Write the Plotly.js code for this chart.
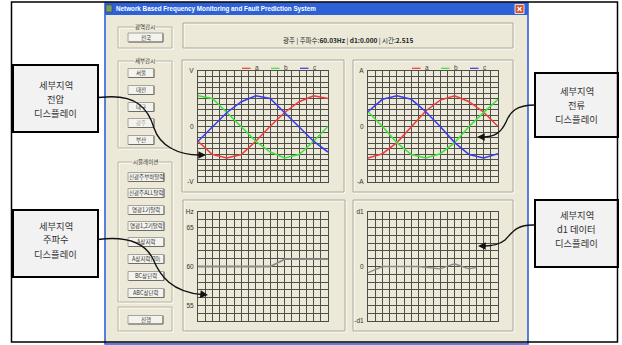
<!DOCTYPE html>
<html><head><meta charset="utf-8">
<script src="https://cdn.plot.ly/plotly-3.0.1.min.js"></script>
<style>html,body{margin:0;padding:0;background:#fff}#chart{width:622px;height:345px}</style>
</head><body><div id="chart"></div>
<script>
// ---------- data ----------
const sampleCols = [0,2,4,6,8,10,12,14,16,18];
const gridCols = [0,1,2,3,4,5,6,7,8,9,10,11,12,13,14,15,16,17,18];
const seriesNames = ['a','b','c'];
const seriesColors = ['#EE3B3B','#3EE03E','#3A3AEE'];
const voltA = [-2.65,-5.06,-5.66,-5.06,-2.65,0.05,2.53,4.46,5.54,5.06];
const voltB = [5.54,5.06,2.53,0,-2.65,-4.6,-5.66,-5.06,-2.65,0];
const voltC = [-2.65,0,2.53,4.46,5.54,5.06,2.53,0,-2.65,-4.6];
const currA = [-5.66,-4.9,-2.9,0,2.8,4.76,5.54,4.46,2.6,0];
const currB = [2.65,0,-2.9,-5.06,-5.66,-4.9,-2.9,0,2.5,4.9];
const currC = [2.65,4.9,5.54,4.9,2.65,0,-2.9,-5.06,-5.66,-4.9];
const freqCols = [0,1,2,3,4,5,6,7,8,9,10,11,12,13,14,15,16,17,18];
const freqHz = [60,60,60,60,60,60,60,60,60,60,60,60.45,60.95,60.95,60.95,60.95,60.95,60.95,60.95];
const d1Cols = [0,1,2,3,4,5,6,7,8,9,10,11,12,13,14,15];
const d1Vals = [-0.8,-0.4,0,0,0,0,0,0,-0.1,-0.2,-0.3,0.05,0.35,0,-0.3,-0.1];
const voltTickVals = [-10,-9,-8,-7,-6,-5,-4,-3,-2,-1,0,1,2,3,4,5,6,7,8,9,10];
const voltTickText = ['-V','','','','','','','','','','0','','','','','','','','','','V'];
const currTickText = ['-A','','','','','','','','','','0','','','','','','','','','','A'];
const freqTickVals = [53,54,55,56,57,58,59,60,61,62,63,64,65,66,67];
const freqTickText = ['','','55','','','','','60','','','','','65','','Hz'];
const d1TickVals = [-7,-6,-5,-4,-3,-2,-1,0,1,2,3,4,5,6,7];
const d1TickText = ['-d1','','','','','','','0','','','','','','','d1'];
const windowTitle = 'Network Based Frequency Monitoring and Fault Prediction System';
const statusText = '광주 | 주파수:<b>60.03Hz</b> | <b>d1:0.000</b> | 시간:<b>2.515</b>';
const wideButtons = ['전국'];
const regionButtons = ['서울','대전','대구','광주','부산'];
const simButtons = ['신광주부하탈락','신광주ALL탈락','영광1기탈락','영광1,2기탈락','A상지락','A상지락(20)','BC상단락','ABC상단락'];
const calloutLines = [['세부지역','전압','디스플레이'],['세부지역','전류','디스플레이'],['세부지역','주파수','디스플레이'],['세부지역','d1 데이터','디스플레이']];

// ---------- helpers ----------
const W = 622, H = 345;
const X = x => x / W;
const Y = y => 1 - y / H;
const BG = '#ECE9D8';
const shapes = [], annotations = [];
function rect(x0,y0,x1,y1,line,fill,layer){
  shapes.push({type:'rect',xref:'paper',yref:'paper',x0:X(x0),x1:X(x1),y0:Y(y1),y1:Y(y0),
    line:line||{width:0},fillcolor:fill||'rgba(0,0,0,0)',layer:layer||'below'});
}
function seg(x0,y0,x1,y1,color,width,layer){
  shapes.push({type:'line',xref:'paper',yref:'paper',x0:X(x0),x1:X(x1),y0:Y(y0),y1:Y(y1),
    line:{color:color,width:width||1},layer:layer||'below'});
}
function pathPx(pts,color,width,layer){
  const d = pts.replace(/(-?\d+(\.\d+)?),(-?\d+(\.\d+)?)/g,(m,a,b,c)=>X(+a).toFixed(5)+','+Y(+c).toFixed(5));
  shapes.push({type:'path',xref:'paper',yref:'paper',path:d,line:{color:color,width:width},layer:layer||'above'});
}
function txt(x,y,text,size,color,opts){
  annotations.push(Object.assign({xref:'paper',yref:'paper',x:X(x),y:Y(y),text:text,showarrow:false,
    xanchor:'center',yanchor:'middle',font:{family:'Noto Sans CJK KR, Liberation Sans, sans-serif',size:size,color:color||'#222'}},opts||{}));
}
function button(x0,y0,x1,y1,label,color){
  rect(x0,y0,x1,y1,{color:'#A4A49C',width:1},'#F4F3EE');
  seg(x0+0.5,y1,x1,y1,'#6E6E66',1);
  seg(x1,y0+0.5,x1,y1,'#6E6E66',1);
  txt((x0+x1)/2,(y0+y1)/2,label,5.5,color||'#333');
}
function group(x0,y0,x1,y1,title){
  rect(x0+1,y0+1,x1+1,y1+1,{color:'#FFFFFF',width:1});
  rect(x0,y0,x1,y1,{color:'#B8B4A2',width:1});
  if(title) txt((x0+x1)/2,y0,title,5.5,'#333',{bgcolor:BG,borderpad:0});
}
function panel(x0,y0,x1,y1){
  rect(x0+1,y0+1,x1+1,y1+1,{color:'#FFFFFF',width:1});
  rect(x0,y0,x1,y1,{color:'#ACA899',width:1});
}

// ---------- window chrome ----------
rect(105,3,528,344,{color:'#2A56D6',width:1.5},BG);
rect(105,3,528,15,{width:0},'#2D62D6');
rect(106,5,112,12,{color:'#335',width:0.5},'#7BA05B');
txt(113.5,9.5,windowTitle,6.3,'#FFFFFF',{xanchor:'left',font:{family:'Liberation Sans, Arial, sans-serif',size:6.3,color:'#FFFFFF',weight:'bold'}});
rect(515,4.5,524,13.5,{color:'#FFFFFF',width:0.8},'#D9542E');
seg(517.5,7,521.5,11,'#FFFFFF',1.3);
seg(517.5,11,521.5,7,'#FFFFFF',1.3);

// left controls
group(118,27,172,48,'광역감시');
button(128,33,163,42,wideButtons[0]);
group(118,61,172,148,'세부감시');
const regCenters = [73,90,107,123,140];
regionButtons.forEach((b,i)=>button(128,regCenters[i]-4.5,154,regCenters[i]+4.5,b,b==='광주'?'#A8A8A0':'#333'));
group(118,162,172,302,'시뮬레이션');
const simCenters = [177,193,210,226,242,259,276,293];
simButtons.forEach((b,i)=>button(128,simCenters[i]-4.5,164,simCenters[i]+4.5,b));
group(118,307,172,331,'');
button(128,315.5,163,324,'진행');

// status panel
panel(183,23,513,48);
txt(348,40,statusText,6.5,'#222');

// chart panels
panel(182,60,344,192);
panel(353,60,513,192);
panel(183,200,345,331);
panel(353,200,513,331);

// legends (per upper panel)
[198,368].forEach(left=>{
  seriesNames.forEach((n,i)=>{
    const lx = left + 44 + i*29;
    seg(lx,68.3,lx+8.5,68.3,seriesColors[i],1.2);
    txt(lx+10.5,67.5,n,6.5,'#444',{xanchor:'left',font:{family:'Liberation Sans, sans-serif',size:6.5,color:'#444'}});
  });
});

// ---------- callouts ----------
const callBoxes = [[13,65,98,132,55.5,98.5],[535,73,618,137,576.5,105],[13,210,98,277,55.5,239.5],[535,200,618,267,576.5,229]];
callBoxes.forEach((b,i)=>{
  rect(b[0],b[1],b[2],b[3],{color:'#000',width:2},'#F2F2F2','above');
  calloutLines[i].forEach((t,j)=>{
    txt(b[4],b[5]+(j-1)*14,t,9.3,'#333',{font:{family:'Noto Sans CJK KR, sans-serif',size:9.3,color:'#333'}});
  });
});
pathPx('M 98,97.5 L 106,97 C 136,95 148,108 154,128 C 160,146 178,155 200,155',  '#111',1.4);
pathPx('M 535,105 C 516,105 510,112 506,122 C 501,133 494,137 483,137','#111',1.4);
pathPx('M 98,239.5 C 126,236 145,243 153,259 C 160,276 172,292 202,294.5','#111',1.4);
pathPx('M 535,225 C 516,224 512,233 505,240 C 499,245 492,246 484,246','#111',1.4);
[[206,155,-9,0],[477,137,9,0],[208,295,-9,-1],[478,246,9,0]].forEach(a=>{
  annotations.push({xref:'paper',yref:'paper',x:X(a[0]),y:Y(a[1]),ax:a[2],ay:a[3],text:'',showarrow:true,
    arrowhead:2,arrowsize:1.1,arrowwidth:1.4,arrowcolor:'#111'});
});

// outer frame
rect(11.5,2,617.5,342,{color:'#000',width:1.5},null,'above');

// ---------- traces ----------
const traces = [];
function line(x,y,xa,ya,color,w){
  traces.push({x:x,y:y,xaxis:xa,yaxis:ya,type:'scatter',mode:'lines',line:{color:color,width:w||1.5},showlegend:false,hoverinfo:'skip'});
}
[voltA,voltB,voltC].forEach((s,i)=>line(sampleCols,s,'x','y',seriesColors[i]));
[currA,currB,currC].forEach((s,i)=>line(sampleCols,s,'x2','y2',seriesColors[i]));
line(freqCols,freqHz,'x3','y3','#8A8A8A',1.8);
line(d1Cols,d1Vals,'x4','y4','#8A8A8A',1.4);

const GRID = '#4E4E4A';
function xax(dom,anchor){
  return {domain:dom,anchor:anchor,range:[0,18],tickvals:gridCols,showticklabels:false,ticks:'',showgrid:true,gridcolor:GRID,gridwidth:1,
    zeroline:false,showline:true,linecolor:GRID,linewidth:1,mirror:true,fixedrange:true};
}
function yax(dom,anchor,range,vals,text){
  return {domain:dom,anchor:anchor,range:range,tickvals:vals,ticktext:text,ticks:'',showgrid:true,gridcolor:GRID,gridwidth:1,
    zeroline:false,showline:true,linecolor:GRID,linewidth:1,mirror:true,fixedrange:true,
    tickfont:{family:'Liberation Sans, sans-serif',size:6.5,color:'#333'},ticklabelstandoff:2};
}
const layout = {
  width:W,height:H,margin:{l:0,r:0,t:0,b:0},paper_bgcolor:'#FFFFFF',plot_bgcolor:BG,showlegend:false,
  xaxis:xax([X(198),X(328)],'y'), yaxis:yax([Y(182),Y(71)],'x',[-10,10],voltTickVals,voltTickText),
  xaxis2:xax([X(368),X(498)],'y2'), yaxis2:yax([Y(182),Y(71)],'x2',[-10,10],voltTickVals,currTickText),
  xaxis3:xax([X(198),X(328)],'y3'), yaxis3:yax([Y(321),Y(212)],'x3',[53,67],freqTickVals,freqTickText),
  xaxis4:xax([X(368),X(498)],'y4'), yaxis4:yax([Y(321),Y(212)],'x4',[-7,7],d1TickVals,d1TickText),
  shapes:shapes, annotations:annotations
};
Plotly.newPlot('chart',traces,layout,{staticPlot:true,displayModeBar:false});
</script></body></html>
